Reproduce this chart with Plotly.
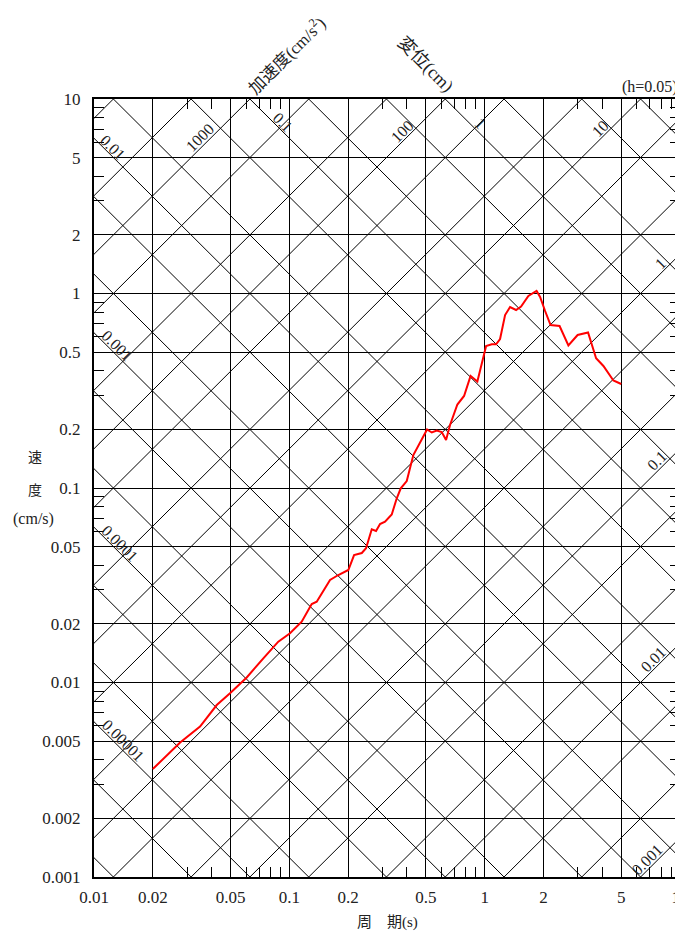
import math
import plotly.graph_objects as go

# ---------------- data ----------------
period = [0.020, 0.0276, 0.0349, 0.0425, 0.0497, 0.0605, 0.0736, 0.0878, 0.1008, 0.1157,
          0.1302, 0.1381, 0.1616, 0.1782, 0.2005, 0.2145, 0.2349, 0.2470, 0.2642, 0.2779,
          0.2913, 0.3090, 0.3344, 0.3548, 0.3719, 0.3991, 0.4314, 0.5071, 0.5360, 0.5684,
          0.6029, 0.6344, 0.6649, 0.7248, 0.7844, 0.8470, 0.9176, 1.017, 1.087, 1.144,
          1.199, 1.272, 1.349, 1.448, 1.536, 1.674, 1.844, 1.922, 2.039, 2.175,
          2.418, 2.683, 2.991, 3.383, 3.719, 4.054, 4.560, 5.00]
velocity = [0.00359, 0.00491, 0.00593, 0.00766, 0.00880, 0.01061, 0.01332, 0.01622, 0.01791, 0.02054,
            0.02533, 0.02602, 0.03365, 0.0357, 0.03788, 0.04523, 0.04632, 0.04898, 0.06134, 0.06011,
            0.06531, 0.06710, 0.07309, 0.08851, 0.09965, 0.1086, 0.1478, 0.1999, 0.1929, 0.1975,
            0.1940, 0.1765, 0.2108, 0.2687, 0.2972, 0.3765, 0.3528, 0.5372, 0.5481, 0.548,
            0.5835, 0.7749, 0.8521, 0.8225, 0.8574, 0.9708, 1.030, 0.9594, 0.8128, 0.6887,
            0.6806, 0.5403, 0.6120, 0.6304, 0.4644, 0.4239, 0.3570, 0.3425]

x_tickvals = [0.01, 0.02, 0.05, 0.1, 0.2, 0.5, 1, 2, 5, 10]
x_ticktext = ["0.01", "0.02", "0.05", "0.1", "0.2", "0.5", "1", "2", "5", "10"]
y_tickvals = [0.001, 0.002, 0.005, 0.01, 0.02, 0.05, 0.1, 0.2, 0.5, 1, 2, 5, 10]
y_ticktext = ["0.001", "0.002", "0.005", "0.01", "0.02", "0.05", "0.1", "0.2", "0.5", "1", "2", "5", "10"]
minor_mult = [3, 4, 6, 7, 8, 9]
x_minor = [m * 10 ** k for k in (-2, -1, 0) for m in minor_mult]
y_minor = [m * 10 ** k for k in (-3, -2, -1, 0) for m in minor_mult]

# diagonal scale lines (1-2-5 series)
accel_values = [m * 10.0 ** k for k in range(-4, 5) for m in (1, 2, 5)]   # cm/s^2
disp_values = [m * 10.0 ** k for k in range(-6, 2) for m in (1, 2, 5)]    # cm

# labelled diagonals: (text, value, period where the label sits)
accel_labels = [("1000", 1000, 0.0349), ("100", 100, 0.377), ("10", 10, 3.9),
                ("1", 1, 7.91), ("0.1", 0.1, 7.63), ("0.01", 0.01, 7.27), ("0.001", 0.001, 6.79)]
disp_labels = [("0.01", 0.01, 0.0125), ("0.001", 0.001, 0.0131), ("0.0001", 0.0001, 0.0136),
               ("0.00001", 0.00001, 0.0141), ("0.1", 0.1, 0.0929), ("1", 1, 0.947)]

TWO_PI = 2 * math.pi
FONT = "Liberation Serif, Noto Sans CJK JP, serif"
TXT = "#222222"

fig = go.Figure()

# diagonal lines
t_ends = [1e-4, 1e3]
ax_x, ax_y = [], []
for a in accel_values:
    ax_x += [t_ends[0], t_ends[1], None]
    ax_y += [a * t_ends[0] / TWO_PI, a * t_ends[1] / TWO_PI, None]
fig.add_trace(go.Scatter(x=ax_x, y=ax_y, mode="lines", line=dict(color="black", width=1),
                         hoverinfo="skip", showlegend=False))
dx_x, dx_y = [], []
for d in disp_values:
    dx_x += [t_ends[0], t_ends[1], None]
    dx_y += [TWO_PI * d / t_ends[0], TWO_PI * d / t_ends[1], None]
fig.add_trace(go.Scatter(x=dx_x, y=dx_y, mode="lines", line=dict(color="black", width=1),
                         hoverinfo="skip", showlegend=False))

# spectrum
fig.add_trace(go.Scatter(x=period, y=velocity, mode="lines",
                         line=dict(color="#ff0000", width=2), showlegend=False))

annotations = []
for text, a, t in accel_labels:
    v = a * t / TWO_PI
    annotations.append(dict(x=math.log10(t), y=math.log10(v), xref="x", yref="y", text=text,
                            showarrow=False, textangle=-45, yshift=11,
                            font=dict(family=FONT, size=16, color=TXT)))
for text, d, t in disp_labels:
    v = TWO_PI * d / t
    annotations.append(dict(x=math.log10(t), y=math.log10(v), xref="x", yref="y", text=text,
                            showarrow=False, textangle=45, yshift=10,
                            font=dict(family=FONT, size=16, color=TXT)))

# plot-area edges in page pixels (page has an 8px body offset)
L, R, T, B = 94, 680, 99, 877
OFF = 8
W, H = 683 - OFF, 935 - OFF


def px(xp, yp):
    return (xp - L) / (R - L), (B - yp) / (B - T)


def add_text(text, xp, yp, size=15, angle=0, xanchor="center"):
    x, y = px(xp, yp)
    annotations.append(dict(x=x, y=y, xref="paper", yref="paper", text=text, showarrow=False,
                            textangle=angle, xanchor=xanchor, yanchor="middle",
                            font=dict(family=FONT, size=size, color=TXT)))


add_text("加速度(cm/s<sup>2</sup>)", 286, 55, size=17, angle=-45)
add_text("変位(cm)", 425, 65, size=18, angle=45)
add_text("(h=0.05)", 680, 87, size=16, xanchor="right")
add_text("速", 35, 458, size=14)
add_text("度", 35, 490, size=14)
add_text("(cm/s)", 33, 519, size=16)
add_text("周　期(s)", 387, 922, size=15)

axis_common = dict(type="log", showline=True, linecolor="black", linewidth=2, mirror="allticks",
                   showgrid=True, gridcolor="black", gridwidth=1, ticks="", zeroline=False,
                   automargin=False, ticklabeloverflow="allow",
                   tickfont=dict(family=FONT, size=17, color=TXT))

fig.update_xaxes(range=[-2, 1], tickvals=x_tickvals, ticktext=x_ticktext,
                 minor=dict(tickvals=x_minor, ticks="inside", ticklen=10, tickcolor="black",
                            tickwidth=1, showgrid=False),
                 ticklabelstandoff=4, **axis_common)
fig.update_yaxes(range=[-3, 1], tickvals=y_tickvals, ticktext=y_ticktext,
                 minor=dict(tickvals=y_minor, ticks="inside", ticklen=10, tickcolor="black",
                            tickwidth=1, showgrid=False),
                 ticklabelstandoff=8, **axis_common)

fig.update_layout(width=W, height=H,
                  margin=dict(l=L - OFF, r=W - (R - OFF), t=T - OFF, b=H - (B - OFF)),
                  paper_bgcolor="white", plot_bgcolor="white", annotations=annotations,
                  showlegend=False)

fig.write_html("out.html")
